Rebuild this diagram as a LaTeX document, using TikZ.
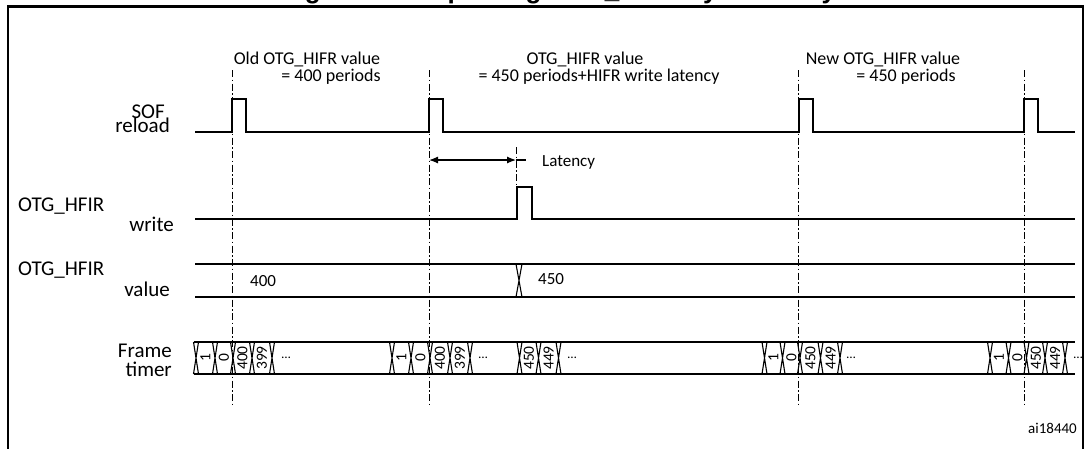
\documentclass[tikz,border=0pt]{standalone}
\usepackage{fontspec}
\setmainfont{Carlito}
\newfontfamily\titlefont{Liberation Sans}
\usetikzlibrary{arrows.meta}
\begin{document}
\begin{tikzpicture}[x=1pt,y=-1pt,
  sig/.style={line width=1.6pt, line join=miter},
  xing/.style={line width=1.1pt},
  dd/.style={line width=0.9pt, dash pattern=on 7pt off 2.5pt on 1.5pt off 2.5pt},
  toplab/.style={font=\fontsize{18}{18}\selectfont, inner sep=0pt},
  sidelab/.style={font=\fontsize{21}{21}\selectfont, inner sep=0pt},
  vallab/.style={font=\fontsize{17}{17}\selectfont, inner sep=0pt},
  celllab/.style={font=\fontsize{15.5}{15.5}\selectfont, rotate=90, inner sep=0pt},
  dotlab/.style={font=\fontsize{13}{13}\selectfont, inner sep=0pt},
  frameline/.style={line width=2.2pt},
]
\useasboundingbox (0,0) rectangle (1090,448);

% title (cut off by the page top)
\node[anchor=base, inner sep=0pt, font=\titlefont\bfseries\fontsize{26}{26}\selectfont] (title) at (559,-1.5) {Figure 385. Updating OTG\_HFIR dynamically};

% frame
\draw[frameline] (8,449) -- (8,6.5) -- (1083,6.5) -- (1083,449);

% top labels
\node[toplab, anchor=base] (l1a) at (307,64) {Old OTG\_HIFR value};
\node[toplab, anchor=base] (l1b) at (331,81) {= 400 periods};
\node[toplab, anchor=base] (l2a) at (585,64) {OTG\_HIFR value};
\node[toplab, anchor=base] (l2b) at (599,81) {= 450 periods+HIFR write latency};
\node[toplab, anchor=base] (l3a) at (883,64) {New OTG\_HIFR value};
\node[toplab, anchor=base] (l3b) at (906,81) {= 450 periods};

% side labels
\node[sidelab, anchor=base east] (sof) at (165,118) {SOF};
\node[sidelab, anchor=base east] (rel) at (170,132) {reload};
\node[sidelab, anchor=base west] (hw1) at (18,211) {OTG\_HFIR};
\node[sidelab, anchor=base east] (wr) at (174,231) {write};
\node[sidelab, anchor=base west] (hw2) at (18,275) {OTG\_HFIR};
\node[sidelab, anchor=base east] (val) at (170,296) {value};
\node[sidelab, anchor=base east] (frm) at (172,357) {Frame};
\node[sidelab, anchor=base east] (tmr) at (172,376) {timer};

% dash-dot reference lines
\foreach \x in {232,429,798,1024} \draw[dd] (\x,70) -- (\x,406);
\draw[dd] (516,147) -- (516,219);

% SOF reload
\draw[sig] (195,132) -- (232,132) -- (232,99) -- (246,99) -- (246,132)
  -- (429,132) -- (429,99) -- (443,99) -- (443,132)
  -- (799,132) -- (799,99) -- (813,99) -- (813,132)
  -- (1024,132) -- (1024,99) -- (1038,99) -- (1038,132) -- (1075,132);

% latency
\coordinate (la) at (429,160);
\coordinate (lb) at (516,160);
\coordinate (lc) at (526,160);
\draw[line width=1.2pt, {Latex[length=9pt,width=7pt]}-{Latex[length=9pt,width=7pt]}] (la) -- (lb);
\draw[line width=1.2pt] (lb) -- (lc);
\node[vallab, anchor=base west] (lat) at (542,166) {Latency};

% write
\draw[sig] (195,219) -- (517,219) -- (517,187) -- (532,187) -- (532,219) -- (1075,219);

% value bus
\draw[sig] (195,264) -- (1075,264);
\draw[sig] (195,297) -- (1075,297);
\draw[xing] (516,264) -- (522,297) (516,297) -- (522,264);
\node[vallab, anchor=base west] (v400) at (250,286) {400};
\node[vallab, anchor=base west] (v450) at (538,284) {450};

% frame timer bus
\draw[sig] (194,342) -- (1075,342);
\draw[sig] (194,374) -- (1075,374);
\foreach \x in {196,215,233,252,272,392,411,430,450,470,519.5,538.5,558.5,764.5,782.5,800,820.5,840,990,1008.5,1026.5,1045,1065}
  \draw[xing] (\x-2.5,342) -- (\x+2.5,374) (\x-2.5,374) -- (\x+2.5,342);
\foreach \x/\t in {205.5/1,224/0,242.5/400,262/399,
                   401.5/1,420.5/0,440/400,460/399,
                   529/450,548.5/449,
                   773.5/1,791.5/0,810.5/450,830.5/449,
                   999/1,1017.5/0,1036/450,1055/449}
  \node[celllab] at (\x,358) {\t};
\foreach \x in {286,483,572,851,1078}
  \node[dotlab] at (\x,358) {\ldots};

\node[font=\fontsize{15}{15}\selectfont, inner sep=0pt, anchor=base east] (ai) at (1077,433) {ai18440};
\end{tikzpicture}
\end{document}
